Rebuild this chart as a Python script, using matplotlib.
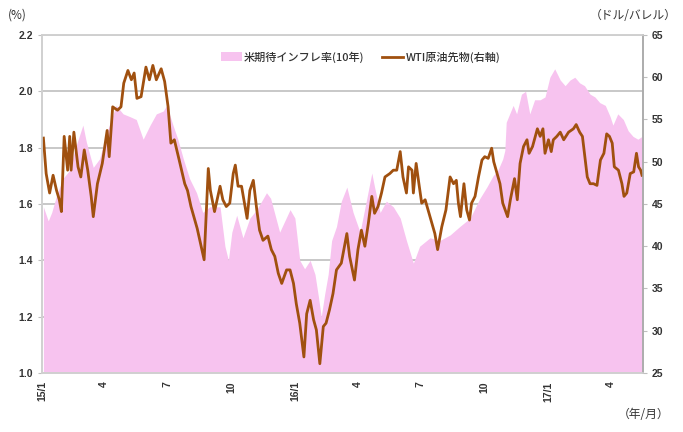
import pandas as pd
import matplotlib.pyplot as plt
import matplotlib.dates as mdates

plt.rcParams['font.family'] = ['Noto Sans CJK JP', 'DejaVu Sans']

# 米期待インフレ率(10年), %
bei_dates = [
    "2015-01-03", "2015-01-10", "2015-01-15", "2015-01-22", "2015-01-31", "2015-02-10",
    "2015-02-17", "2015-03-01", "2015-03-06", "2015-03-16", "2015-03-25", "2015-04-04",
    "2015-04-18", "2015-04-28", "2015-05-08", "2015-05-17", "2015-05-27", "2015-06-06",
    "2015-06-15", "2015-06-25", "2015-06-30", "2015-07-09", "2015-07-16", "2015-07-24",
    "2015-08-02", "2015-08-12", "2015-08-21", "2015-08-31", "2015-09-07", "2015-09-15",
    "2015-09-22", "2015-09-27", "2015-10-02", "2015-10-09", "2015-10-18", "2015-10-28",
    "2015-11-07", "2015-11-21", "2015-11-27", "2015-12-10", "2015-12-25", "2016-01-01",
    "2016-01-08", "2016-01-15", "2016-01-23", "2016-01-30", "2016-02-04", "2016-02-08",
    "2016-02-13", "2016-02-18", "2016-02-23", "2016-03-01", "2016-03-08", "2016-03-16",
    "2016-03-25", "2016-04-04", "2016-04-13", "2016-04-21", "2016-04-25", "2016-05-03",
    "2016-05-12", "2016-05-22", "2016-06-01", "2016-06-10", "2016-06-20", "2016-06-29",
    "2016-07-14", "2016-07-28", "2016-08-12", "2016-08-26", "2016-09-10", "2016-09-24",
    "2016-10-04", "2016-10-13", "2016-10-20", "2016-10-27", "2016-10-30", "2016-11-01",
    "2016-11-11", "2016-11-16", "2016-11-23", "2016-11-29", "2016-12-05", "2016-12-12",
    "2016-12-20", "2016-12-27", "2017-01-03", "2017-01-10", "2017-01-18", "2017-01-25",
    "2017-02-01", "2017-02-08", "2017-02-15", "2017-02-22", "2017-03-02", "2017-03-09",
    "2017-03-16", "2017-03-24", "2017-03-31", "2017-04-04", "2017-04-11", "2017-04-19",
    "2017-04-26", "2017-05-03", "2017-05-10", "2017-05-16",
]
bei_values = [
    1.59, 1.54, 1.57, 1.63, 1.69, 1.72,
    1.79, 1.88, 1.82, 1.73, 1.76, 1.85,
    1.95, 1.92, 1.91, 1.90, 1.83, 1.88,
    1.92, 1.93, 1.95, 1.88, 1.83, 1.76,
    1.69, 1.64, 1.57, 1.59, 1.59, 1.59,
    1.45, 1.40, 1.50, 1.56, 1.48, 1.55,
    1.58, 1.64, 1.62, 1.50, 1.58, 1.55,
    1.40, 1.37, 1.40, 1.35, 1.27, 1.20,
    1.28, 1.35, 1.47, 1.52, 1.61, 1.66,
    1.57, 1.50, 1.61, 1.71, 1.66, 1.57,
    1.61, 1.59, 1.55, 1.47, 1.39, 1.45,
    1.48, 1.47, 1.49, 1.52, 1.55, 1.62,
    1.66, 1.70, 1.72, 1.76, 1.79, 1.89,
    1.95, 1.92, 1.99, 2.00, 1.92, 1.97,
    1.97, 1.98, 2.05, 2.08, 2.04, 2.02,
    2.04, 2.05, 2.03, 2.02, 1.99, 1.98,
    1.96, 1.95, 1.91, 1.88, 1.92, 1.90,
    1.86, 1.84, 1.83, 1.84,
]

# WTI原油先物, ドル/バレル
wti_dates = [
    "2015-01-03", "2015-01-07", "2015-01-12", "2015-01-17", "2015-01-22", "2015-01-26",
    "2015-01-29", "2015-02-02", "2015-02-07", "2015-02-10", "2015-02-12", "2015-02-16",
    "2015-02-22", "2015-02-26", "2015-03-03", "2015-03-08", "2015-03-13", "2015-03-16",
    "2015-03-22", "2015-03-29", "2015-04-05", "2015-04-08", "2015-04-13", "2015-04-20",
    "2015-04-25", "2015-04-29", "2015-05-05", "2015-05-10", "2015-05-14", "2015-05-18",
    "2015-05-24", "2015-05-31", "2015-06-05", "2015-06-10", "2015-06-15", "2015-06-22",
    "2015-06-27", "2015-07-02", "2015-07-06", "2015-07-11", "2015-07-18", "2015-07-26",
    "2015-07-30", "2015-08-04", "2015-08-13", "2015-08-23", "2015-08-29", "2015-09-01",
    "2015-09-07", "2015-09-15", "2015-09-19", "2015-09-24", "2015-09-29", "2015-10-04",
    "2015-10-07", "2015-10-11", "2015-10-16", "2015-10-21", "2015-10-24", "2015-10-28",
    "2015-11-02", "2015-11-07", "2015-11-11", "2015-11-16", "2015-11-23", "2015-11-28",
    "2015-12-03", "2015-12-08", "2015-12-13", "2015-12-20", "2015-12-25", "2015-12-30",
    "2016-01-03", "2016-01-08", "2016-01-14", "2016-01-18", "2016-01-23", "2016-01-28",
    "2016-02-01", "2016-02-06", "2016-02-11", "2016-02-15", "2016-02-20", "2016-02-25",
    "2016-03-01", "2016-03-08", "2016-03-16", "2016-03-20", "2016-03-27", "2016-04-01",
    "2016-04-06", "2016-04-11", "2016-04-16", "2016-04-21", "2016-04-25", "2016-04-30",
    "2016-05-05", "2016-05-10", "2016-05-17", "2016-05-22", "2016-05-27", "2016-06-01",
    "2016-06-05", "2016-06-10", "2016-06-13", "2016-06-18", "2016-06-20", "2016-06-24",
    "2016-06-28", "2016-07-02", "2016-07-07", "2016-07-14", "2016-07-21", "2016-07-25",
    "2016-07-31", "2016-08-06", "2016-08-12", "2016-08-17", "2016-08-21", "2016-08-24",
    "2016-08-27", "2016-09-01", "2016-09-05", "2016-09-09", "2016-09-12", "2016-09-17",
    "2016-09-22", "2016-09-27", "2016-10-01", "2016-10-06", "2016-10-11", "2016-10-14",
    "2016-10-23", "2016-10-27", "2016-11-03", "2016-11-07", "2016-11-13", "2016-11-17",
    "2016-11-21", "2016-11-26", "2016-12-01", "2016-12-04", "2016-12-09", "2016-12-16",
    "2016-12-20", "2016-12-24", "2016-12-27", "2017-01-01", "2017-01-05", "2017-01-08",
    "2017-01-13", "2017-01-18", "2017-01-23", "2017-01-30", "2017-02-06", "2017-02-10",
    "2017-02-15", "2017-02-19", "2017-02-23", "2017-02-26", "2017-03-02", "2017-03-07",
    "2017-03-12", "2017-03-17", "2017-03-22", "2017-03-26", "2017-03-30", "2017-04-03",
    "2017-04-06", "2017-04-12", "2017-04-17", "2017-04-20", "2017-04-24", "2017-04-29",
    "2017-05-04", "2017-05-08", "2017-05-11", "2017-05-14", "2017-05-16",
]
wti_values = [
    52.8, 48.6, 46.3, 48.4, 46.6, 45.5,
    44.1, 53.0, 49.0, 53.0, 49.0, 53.5,
    49.4, 48.2, 51.4, 49.0, 45.9, 43.5,
    47.4, 49.8, 53.7, 50.6, 56.5, 56.1,
    56.5, 59.3, 60.8, 59.7, 60.5, 57.5,
    57.7, 61.2, 59.7, 61.4, 59.7, 61.0,
    59.5, 56.5, 52.2, 52.6, 50.2, 47.4,
    46.6, 44.7, 42.1, 38.4, 49.2, 46.6,
    44.1, 47.1, 45.5, 44.7, 45.1, 48.6,
    49.6, 47.1, 47.1, 44.7, 43.3, 46.6,
    47.8, 44.3, 41.9, 40.7, 41.2, 39.6,
    38.8, 36.8, 35.6, 37.2, 37.2, 35.6,
    33.2, 30.9, 26.9, 32.0, 33.6, 31.3,
    30.1, 26.1, 30.5, 30.9, 32.5, 34.4,
    37.2, 38.0, 41.5, 38.8, 36.0, 39.6,
    41.9, 40.0, 42.7, 45.9, 43.9, 44.7,
    46.3, 48.2, 48.6, 49.0, 49.0, 51.2,
    48.2, 46.3, 49.4, 49.0, 46.3, 49.8,
    47.4, 45.1, 45.5, 43.5, 41.5, 39.6,
    42.3, 44.3, 48.2, 47.4, 47.8, 45.1,
    43.5, 47.4, 44.3, 43.1, 45.1, 45.9,
    48.2, 50.2, 50.6, 50.4, 51.6, 50.0,
    47.4, 45.1, 43.5, 45.5, 48.0, 45.5,
    49.8, 51.8, 52.6, 51.0, 51.8, 53.9,
    53.0, 53.9, 51.0, 52.6, 51.2, 52.6,
    53.0, 53.5, 52.6, 53.5, 53.9, 54.4,
    53.5, 53.0, 50.2, 48.2, 47.4, 47.4,
    47.2, 50.2, 51.0, 53.3, 53.0, 52.2,
    49.4, 49.0, 47.4, 45.9, 46.3, 48.6,
    48.8, 51.0, 49.4, 49.0, 48.4,
]

month_ticks = ["2015-01-01", "2015-04-01", "2015-07-01", "2015-10-01", "2016-01-01",
               "2016-04-01", "2016-07-01", "2016-10-01", "2017-01-01", "2017-04-01"]
month_labels = ["15/1", "4", "7", "10", "16/1", "4", "7", "10", "17/1", "4"]

bei = pd.Series(bei_values, index=pd.to_datetime(bei_dates))
wti = pd.Series(wti_values, index=pd.to_datetime(wti_dates))

fig = plt.figure(figsize=(6.83, 4.32), dpi=100)
ax1 = fig.add_axes([0.0615, 0.1366, 0.8795, 0.7824])
ax2 = ax1.twinx()

pink = "#F7C3EF"
brown = "#A0500F"
grid = "#BFBFBF"

# インフレ率 (面)
ax1.fill_between(bei.index, 1.0, bei.values, color=pink, lw=0, label="米期待インフレ率(10年)")
ax1.set_ylim(1.0, 2.2)
ax1.set_yticks([1.0, 1.2, 1.4, 1.6, 1.8, 2.0, 2.2])
ax1.set_yticklabels(["1.0", "1.2", "1.4", "1.6", "1.8", "2.0", "2.2"])
ax1.set_axisbelow(True)
ax1.grid(True, axis="y", color=grid, lw=1.2)

# WTI (線)
ax2.plot(wti.index, wti.values, color=brown, lw=2.0, label="WTI原油先物(右軸)")
ax2.set_ylim(25, 65)
ax2.set_yticks(range(25, 70, 5))

ax1.set_xlim(pd.Timestamp("2015-01-01"), pd.Timestamp("2017-05-17"))
ax1.set_xticks(pd.to_datetime(month_ticks))
ax1.set_xticklabels(month_labels, rotation=90, va="top")

for ax in (ax1, ax2):
    for s in ax.spines.values():
        s.set_color("#D0D0D0")
        s.set_linewidth(1.2)
    ax.tick_params(labelsize=7.5, color="#BFBFBF", length=3, colors="#333333")
    for lab in ax.get_xticklabels() + ax.get_yticklabels():
        lab.set_family(["Liberation Sans", "DejaVu Sans"])
        lab.set_fontweight("bold")
ax2.spines["right"].set_color("#A6A6A6")
ax1.tick_params(axis="x", length=0, pad=6)

# 凡例
h1, l1 = ax1.get_legend_handles_labels()
h2, l2 = ax2.get_legend_handles_labels()
leg = ax1.legend(h1 + h2, l1 + l2, loc="center", bbox_to_anchor=(0.53, 0.935), ncol=2,
                 frameon=False, fontsize=8, handlelength=1.9, handleheight=0.8,
                 columnspacing=1.6, handletextpad=0.2)
for t in leg.get_texts():
    t.set_color("#333333")
    t.set_fontweight("medium")

fig.text(0.012, 0.965, "(%)", fontsize=8.5, va="center", ha="left", color="#333333")
fig.text(0.99, 0.965, "（ドル/バレル）", fontsize=8.5, va="center", ha="right", color="#333333")
fig.text(0.98, 0.04, "（年/月）", fontsize=8.5, va="center", ha="right", color="#333333")

fig.savefig("out.png", dpi=100)
